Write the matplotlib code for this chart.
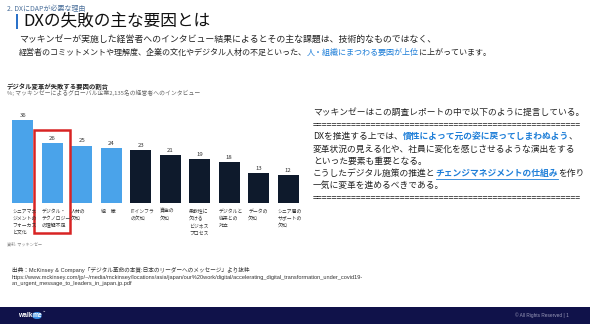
import matplotlib
matplotlib.use('Agg')
import matplotlib.pyplot as plt
from matplotlib.patches import Rectangle, FancyBboxPatch
from matplotlib.lines import Line2D

plt.rcParams['font.family'] = ['Noto Sans CJK JP', 'DejaVu Sans']

W, H = 590, 324

# data
factors = ['シニアマネ\nジメントの\nフォーカス\nと文化', 'デジタル・\nテクノロジー\nの理解不足', '人材の\n欠如', '組　織',
           'ITインフラ\nの欠如', '資金の\n欠如', '柔軟性に\n欠ける\nビジネス\nプロセス', 'デジタルと\n従来との\n対立',
           'データの\n欠如', 'シニア層の\nサポートの\n欠如']
shares = [36, 26, 25, 24, 23, 21, 19, 18, 13, 12]
people_related = [True, True, True, True, False, False, False, False, False, False]

title = 'DXの失敗の主な要因とは'
section = '2. DXにDAPが必要な理由'
lead1 = 'マッキンゼーが実施した経営者へのインタビュー結果によるとその主な課題は、技術的なものではなく、'
lead2 = [('経営者のコミットメントや理解度、企業の文化やデジタル人材の不足といった、', 'k'),
         ('人・組織にまつわる要因が上位', 'b'), ('に上がっています。', 'k')]
chart_title = 'デジタル変革が失敗する要因の割合'
chart_sub = '%; マッキンゼーによるグローバル企業2,135名の経営者へのインタビュー'
chart_src = '資料: マッキンゼー'
note_lines = [
    [('マッキンゼーはこの調査レポートの中で以下のように提言している。', 'k')],
    None,
    [('DXを推進する上では、', 'k'), ('慣性によって元の姿に戻ってしまわぬよう', 'b'), ('、', 'k')],
    [('変革状況の見える化や、社員に変化を感じさせるような演出をする', 'k')],
    [('といった要素も重要となる。', 'k')],
    [('こうしたデジタル施策の推進と', 'k'), ('チェンジマネジメントの仕組み', 'u'), ('を作り', 'k')],
    [('一気に変革を進めるべきである。', 'k')],
    None,
]
source = ['出典：McKinsey & Company「デジタル革命の本質:日本のリーダーへのメッセージ」より抜粋',
          'https://www.mckinsey.com/jp/~/media/mckinsey/locations/asia/japan/our%20work/digital/accelerating_digital_transformation_under_covid19-',
          'an_urgent_message_to_leaders_in_japan.jp.pdf']

LIGHT = '#4aa3ea'
DARK = '#0e1a2c'
BLUE_TXT = '#1f7fd8'
TXT = '#222222'

fig = plt.figure(figsize=(W / 100, H / 100), dpi=100)
fig.patch.set_facecolor('white')
r = fig.canvas.get_renderer()


def fx(x):
    return x / W


def fy(y):
    return 1 - y / H


def seg_line(x, y, parts, size, weight='normal', bold_blue=True):
    for s, c, in parts:
        col = {'k': TXT, 'b': BLUE_TXT, 'u': BLUE_TXT}[c]
        t = fig.text(fx(x), fy(y), s, color=col, fontsize=size, va='center', ha='left',
                     weight='bold' if (c != 'k' and bold_blue) else weight)
        bb = t.get_window_extent(renderer=r)
        if c == 'u':
            fig.add_artist(Line2D([fx(x), fx(x + bb.width)], [fy(y + 5.4)] * 2,
                                  color=BLUE_TXT, lw=0.6))
        x += bb.width
    return x


# header
fig.text(fx(7), fy(9), section, fontsize=5.0, color='#4a6f9a', va='center', ha='left')
fig.add_artist(Rectangle((fx(16), fy(29)), 2.2 / W, 15 / H, color='#2b72c9', lw=0))
fig.text(fx(23), fy(21), title, fontsize=12, color='#111111', va='center', ha='left')
fig.text(fx(19), fy(40), lead1, fontsize=6.4, color=TXT, va='center', ha='left')
seg_line(19, 52, lead2, 5.8, bold_blue=False)

# chart texts
fig.text(fx(7), fy(86), chart_title, fontsize=4.6, color='#222222', weight='bold', va='center', ha='left')
fig.text(fx(7), fy(93), chart_sub, fontsize=4.2, color='#666666', va='center', ha='left')
fig.text(fx(7), fy(244), chart_src, fontsize=3.0, color='#888888', va='center', ha='left')

# bars
ax = fig.add_axes([fx(8), fy(203), 295 / W, 92 / H])
xs = list(range(len(shares)))
colors = [LIGHT if p else DARK for p in people_related]
ax.bar(xs, shares, width=0.71, color=colors)
for i, v in enumerate(shares):
    ax.text(i, v + 0.9, str(v), ha='center', va='bottom', fontsize=4.3, color='#333333')
    ax.text(i - 0.36, -2.4, factors[i], ha='left', va='top', fontsize=3.5, color='#333333',
            linespacing=1.55)
ax.set_xlim(-0.5, len(shares) - 0.5)
ax.set_ylim(0, 40)
ax.axis('off')
ax.add_patch(Rectangle((0.39, -13.0), 1.22, 44.7, fill=False, edgecolor='#d82424', lw=1.8,
                       clip_on=False))

# right side note
n_eq = 50
eq = fig.text(fx(313), 0, '=' * n_eq, fontsize=6.3)
n_eq = int(n_eq * 270 / eq.get_window_extent(renderer=r).width)
eq.remove()
y = 112
for line in note_lines:
    if line is None:
        fig.text(fx(313), fy(y), '=' * n_eq, fontsize=6.3, color=TXT, va='center', ha='left')
    else:
        seg_line(313, y, line, 6.3)
    y += 12.3

# source
for k, s in enumerate(source):
    fig.text(fx(12), fy(270 + 7 * k), s, fontsize=4.1, color='#333333', va='center', ha='left',
             family=['Liberation Sans', 'Noto Sans CJK JP'])

# footer
fig.add_artist(Rectangle((0, 0), 1, 17 / H, color='#10124a', lw=0))
fig.text(fx(18), fy(315.5), 'walk', fontsize=4.8, color='white', va='center', ha='left', weight='bold',
         family=['Liberation Sans'])
fig.add_artist(FancyBboxPatch((fx(32.5), fy(319)), 9 / W, 7 / H,
                              boxstyle='round,pad=0,rounding_size=0.008', color='#3b8fe6', lw=0))
fig.text(fx(37), fy(315.5), 'me', fontsize=4.8, color='white', va='center', ha='center', weight='bold',
         family=['Liberation Sans'])
fig.text(fx(43), fy(312), '™', fontsize=2.2, color='white', va='center', ha='left')
fig.text(fx(569), fy(315.5), '© All Rights Reserved | 1', fontsize=3.4, color='#9a9ab8', va='center',
         ha='right', family=['Liberation Sans'])

fig.savefig('out.png', dpi=100)
